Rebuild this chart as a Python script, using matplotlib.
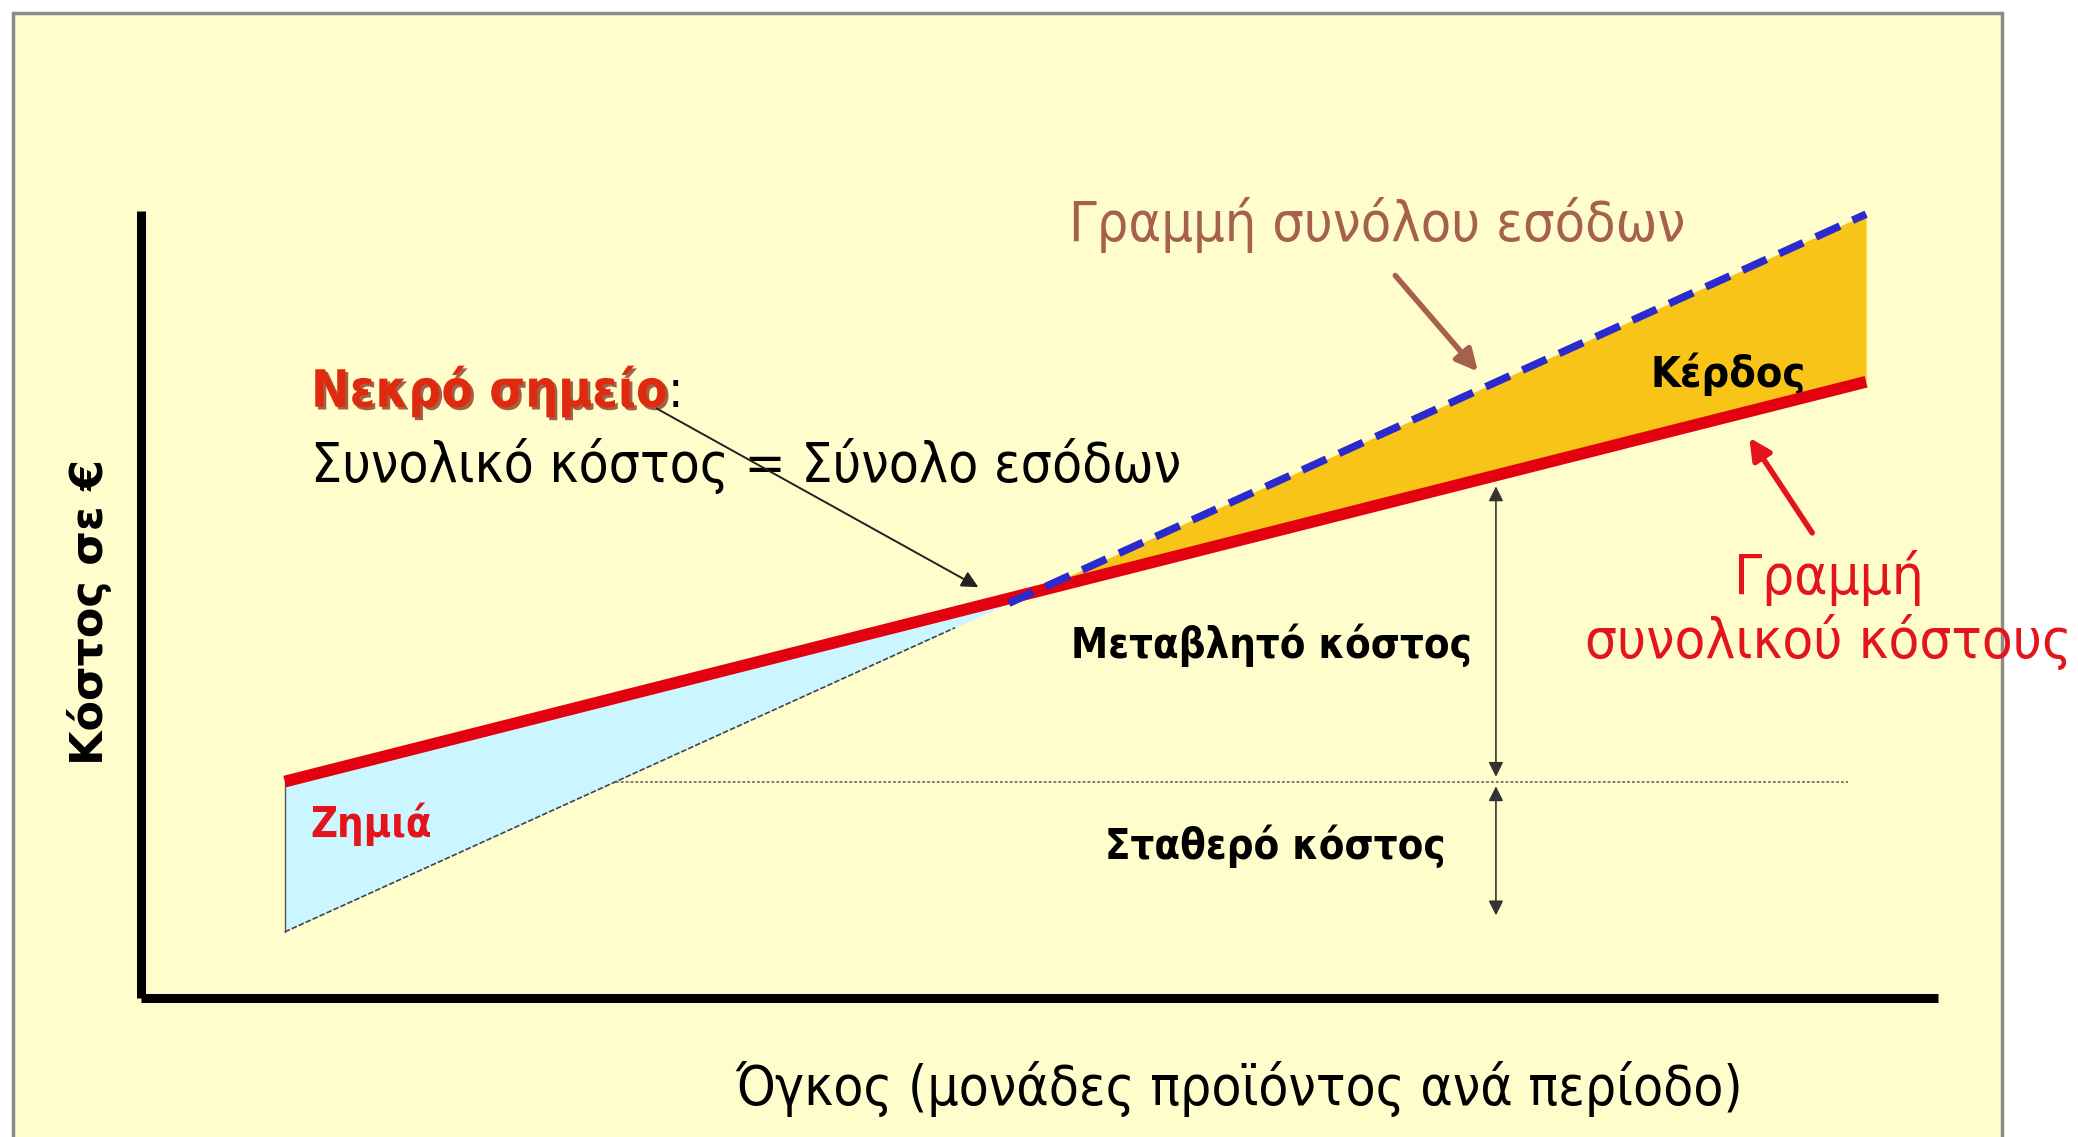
import numpy as np
import matplotlib
matplotlib.use("Agg")
import matplotlib.pyplot as plt
import matplotlib.patheffects as pe
from matplotlib.patches import Rectangle

plt.rcParams['font.family'] = ['DejaVu Sans']
plt.rcParams['font.stretch'] = 'condensed'
plt.rcParams['lines.scale_dashes'] = False

# data (arbitrary units, axis 0..100)
volume = [8, 96]
total_cost = [27.5, 78.3]
revenue = [8.4, 99.6]
fixed_cost = 27.5
fixed_line_end = 95
loss_edge_end = 45.3
dash_start = 48.3
arrow_x = 75.4
fixed_arrow_bottom = 10.5

W, H = 2078, 1137
fig = plt.figure(figsize=(W / 100, H / 100), dpi=100)
fig.patch.set_facecolor('white')

# yellow panel behind everything
fig.patches.append(Rectangle((13 / W, -0.01), (2002 - 13) / W, 1 - 13 / H + 0.01,
                             transform=fig.transFigure, facecolor='#FFFDCB',
                             edgecolor='#8C8C8C', linewidth=2.5, zorder=-5))

ax = fig.add_axes([141 / W, (H - 998) / H, (1938 - 141) / W, (998 - 211) / H])
ax.set_zorder(2)
ax.set_facecolor('none')
ax.set_xlim(0, 100)
ax.set_ylim(0, 100)
for s in ['top', 'right']:
    ax.spines[s].set_visible(False)
for s in ['left', 'bottom']:
    ax.spines[s].set_linewidth(6.5)
    ax.spines[s].set_color('black')
    ax.spines[s].set_capstyle('butt')
ax.set_xticks([])
ax.set_yticks([])


def line_at(xs, ys, x):
    return ys[0] + (ys[1] - ys[0]) * (x - xs[0]) / (xs[1] - xs[0])


# break-even point
c_slope = (total_cost[1] - total_cost[0]) / (volume[1] - volume[0])
r_slope = (revenue[1] - revenue[0]) / (volume[1] - volume[0])
be_x = volume[0] + (total_cost[0] - revenue[0]) / (r_slope - c_slope)

# loss area
xl = np.array([volume[0], be_x])
ax.fill_between(xl, [line_at(volume, revenue, v) for v in xl],
                [line_at(volume, total_cost, v) for v in xl],
                color='#CCF6FF', lw=0, zorder=1)
ax.plot([volume[0], volume[0]], [revenue[0], total_cost[0]], color='#555555', lw=1, zorder=2)
ax.plot([volume[0], loss_edge_end], [revenue[0], line_at(volume, revenue, loss_edge_end)],
        color='#444444', lw=1.2, ls=(0, (4, 1.5)), zorder=2)

# profit area
xp = np.array([be_x, volume[1]])
ax.fill_between(xp, [line_at(volume, total_cost, v) for v in xp],
                [line_at(volume, revenue, v) for v in xp],
                color='#F7C417', lw=0, zorder=1)

# fixed cost line
x_fc = volume[0] + (fixed_cost - revenue[0]) / r_slope
ax.plot([x_fc, fixed_line_end], [fixed_cost, fixed_cost], color='#666666', lw=1.2,
        ls=(0, (2, 1.5)), zorder=2)

# total cost and revenue lines
ax.plot(volume, total_cost, color='#E3000F', lw=8.5, solid_capstyle='butt', zorder=4)
ax.plot([dash_start, volume[1]], [line_at(volume, revenue, dash_start), revenue[1]],
        color='#2A2ACF', lw=5.5, ls=(0, (19, 10)), zorder=5)

# vertical dimension arrows
top_y = line_at(volume, total_cost, arrow_x) - 1.4
arr = dict(arrowstyle='<|-|>', color='#333333', lw=1.2, mutation_scale=22, shrinkA=0, shrinkB=0)
ax.annotate('', xy=(arrow_x, top_y), xytext=(arrow_x, fixed_cost + 0.6), arrowprops=arr, zorder=6)
ax.annotate('', xy=(arrow_x, fixed_arrow_bottom), xytext=(arrow_x, fixed_cost - 0.6),
            arrowprops=arr, zorder=6)

# texts
ax.text(68.8, 98.2, 'Γραμμή συνόλου εσόδων', color='#A5614E', fontsize=40,
        ha='center', va='center', clip_on=False)
ax.annotate('', xy=(74.4, 79.6), xytext=(69.8, 91.8),
            arrowprops=dict(arrowstyle='-|>', color='#A5614E', lw=4, mutation_scale=32,
                            shrinkA=0, shrinkB=0))
ax.text(88.3, 79.3, 'Κέρδος', color='black', fontsize=31, fontweight='bold',
        ha='center', va='center')
ax.annotate('', xy=(89.5, 71.2), xytext=(93.0, 59.1),
            arrowprops=dict(arrowstyle='-|>', color='#E3141B', lw=4, mutation_scale=32,
                            shrinkA=0, shrinkB=0))
ax.text(93.9, 49.3, 'Γραμμή\nσυνολικού κόστους', color='#E3141B', fontsize=40.5,
        ha='center', va='center', multialignment='center', linespacing=1.2,
        clip_on=False)

t = ax.text(9.46, 77.1, 'Νεκρό σημείο', color='#E02A10', fontsize=37, fontweight='bold',
            ha='left', va='center',
            path_effects=[pe.withSimplePatchShadow(offset=(2, -2), shadow_rgbFace='#7A2010',
                                                   alpha=0.7)])
ax.annotate(':', xy=(1, 0), xycoords=t, va='bottom', ha='left', fontsize=37, color='black')
ax.text(9.46, 67.6, 'Συνολικό κόστος = Σύνολο εσόδων', color='black', fontsize=39.5,
        ha='left', va='center')
ax.annotate('', xy=(46.6, 52.2), xytext=(28.7, 74.9),
            arrowprops=dict(arrowstyle='-|>', color='#222222', lw=1.4, mutation_scale=25,
                            shrinkA=0, shrinkB=0))

ax.text(62.9, 44.8, 'Μεταβλητό κόστος', color='black', fontsize=30, fontweight='bold',
        ha='center', va='center')
ax.text(63.1, 19.3, 'Σταθερό κόστος', color='black', fontsize=30, fontweight='bold',
        ha='center', va='center')
ax.text(12.8, 22.1, 'Ζημιά', color='#E3141B', fontsize=30, fontweight='bold',
        ha='center', va='center')

fig.text(90 / W, 1 - 612 / H, 'Κόστος σε €', rotation=90, fontsize=32, fontweight='bold',
         ha='center', va='center', fontstretch='normal')
fig.text(1239 / W, 1 - 1089 / H, 'Όγκος (μονάδες προϊόντος ανά περίοδο)', fontsize=39.5,
         ha='center', va='center')

fig.savefig('out.png', dpi=100, facecolor=fig.get_facecolor())
